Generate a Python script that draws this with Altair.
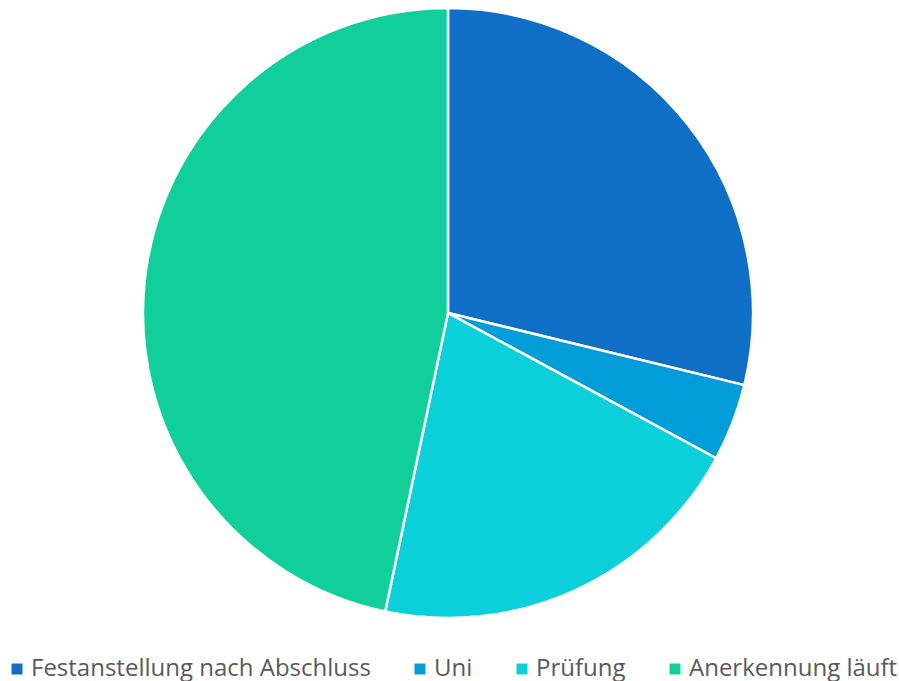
import altair as alt
import pandas as pd

categories = ["Festanstellung nach Abschluss", "Uni", "Prüfung", "Anerkennung läuft"]
values = [28.8, 4.1, 20.4, 46.7]
colors = ["#0F6FC6", "#009DD9", "#0BD0D9", "#10CF9B"]

df = pd.DataFrame({"category": categories, "value": values, "order": list(range(len(categories)))})

chart = alt.Chart(df).mark_arc(stroke="white", strokeWidth=2.5, radius=305).encode(
    theta=alt.Theta("value:Q", stack=True),
    order=alt.Order("order:Q"),
    x=alt.value(448),
    y=alt.value(313),
    color=alt.Color(
        "category:N",
        scale=alt.Scale(domain=categories, range=colors),
        sort=categories,
        legend=alt.Legend(
            title=None,
            orient="none",
            legendX=5,
            legendY=657,
            direction="horizontal",
            symbolType="square",
            symbolSize=120,
            symbolStrokeWidth=0,
            labelFont="Open Sans",
            labelFontSize=24,
            labelColor="#595959",
            labelLimit=600,
            columnPadding=37,
            symbolOffset=0,
            labelOffset=2,
        ),
    ),
).properties(width=899, height=681, autosize=alt.AutoSizeParams(type="none"), padding=0).configure_view(stroke=None)

chart.save("out.html", embed_options={"renderer": "svg", "actions": False})
